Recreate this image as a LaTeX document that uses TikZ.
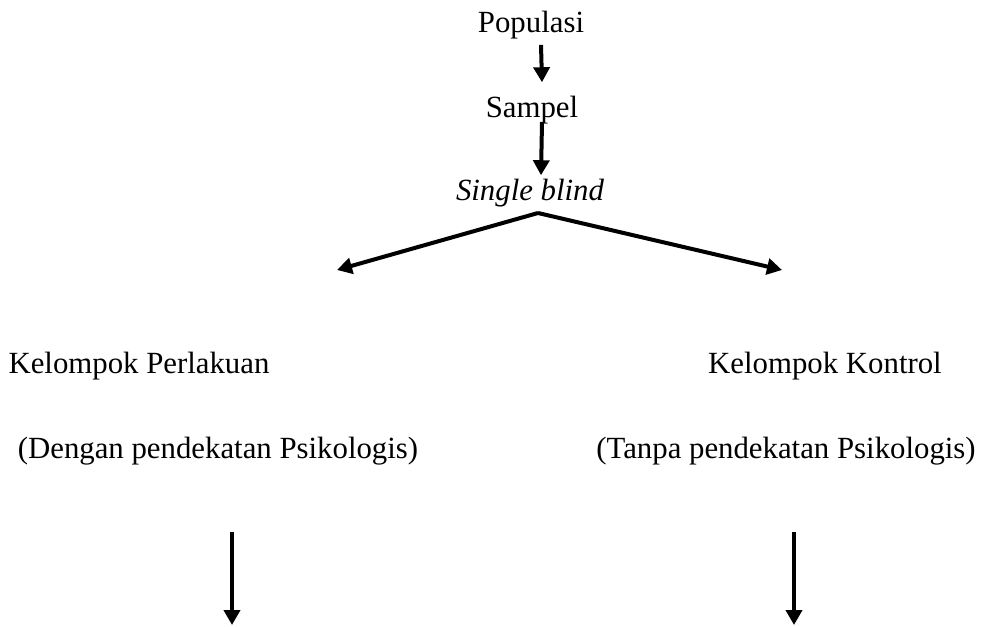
\documentclass[tikz,border=0pt]{standalone}
\usepackage{fontspec}
\setmainfont{Liberation Serif}
\usepackage{tikz}
\usetikzlibrary{arrows.meta,positioning}

\begin{document}
\begin{tikzpicture}[x=0.5pt,y=-0.5pt,
    lbl/.style={inner sep=0pt,anchor=base,font=\fontsize{15.4}{18}\selectfont},
    arr/.style={line width=2pt,-{Triangle[width=8pt,length=7.5pt]}}]
        \useasboundingbox (0,0) rectangle (983,626);
        \node[lbl] (pop) at (531,33) {Populasi};
        \node[lbl] (smp) at (532,118) {Sampel};
        \node[lbl,font=\fontsize{15.4}{18}\selectfont\itshape] (sb) at (530,200) {Single blind};
        \node[lbl] (kp) at (139,373) {Kelompok Perlakuan};
        \node[lbl] (kk) at (825,373) {Kelompok Kontrol};
        \node[lbl] (kpk) at (218,458) {(Dengan pendekatan Psikologis)};
        \node[lbl] (kkk) at (786,458) {(Tanpa pendekatan Psikologis)};
        \coordinate (split) at (538,213);
        \coordinate (lt) at (337,270);
        \coordinate (rt) at (782,270);
        \draw[arr] ([xshift=5pt,yshift=-2.5pt]pop.south) -- ([xshift=5pt,yshift=7pt]smp.north);
        \draw[arr] ([xshift=5pt,yshift=1.5pt]smp.south) -- ([xshift=5.5pt,yshift=1.5pt]sb.north);
        \draw[arr] (split) -- (lt);
        \draw[arr] (split) -- (rt);
        \foreach \x in {232,794}
          \draw[arr] (\x,532) -- (\x,625);
      \end{tikzpicture}
\end{document}
